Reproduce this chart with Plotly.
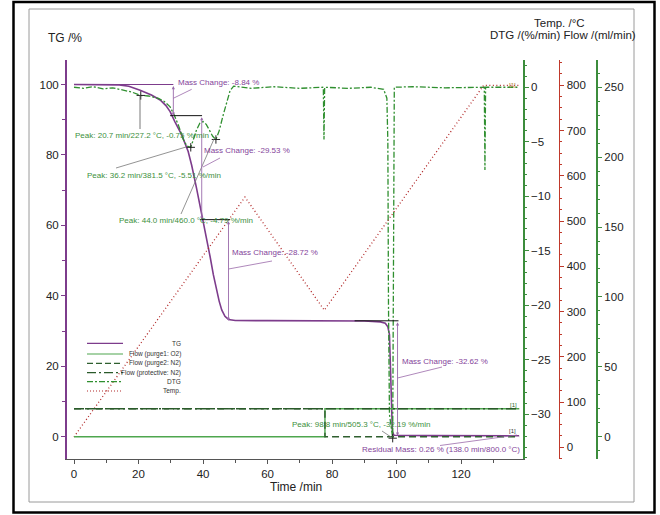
import plotly.graph_objects as go

# ---------------- data ----------------
time_tg = [0, 10, 14, 17, 20.5, 24, 26.7, 28.5, 29.8, 31.3, 33.4, 35.4, 36.5, 38.0, 39.6, 41.0, 42.2,
           43.2, 44.2, 45.0, 45.8, 46.8, 47.9, 50, 60, 80, 90, 95, 96.5, 97.3, 97.8, 98.1, 98.4, 98.7,
           99.2, 110, 138]
tg = [100.0, 100.0, 99.9, 99.5, 98.4, 97.0, 95.6, 94.0, 92.3, 89.4, 85.7, 81.0, 77.0, 70.5, 63.5, 57.0,
      51.1, 46.0, 41.6, 38.5, 36.0, 34.2, 33.3, 33.0, 32.95, 32.9, 32.85, 32.6, 32.2, 31.2, 29.0, 20.0,
      8.0, 1.5, 0.4, 0.3, 0.26]

time_dtg = [0, 3, 6, 9, 12, 15, 18, 20.7, 23, 26, 28, 29.8, 31, 32.4, 33.9, 35, 36.2, 37, 38, 39, 40,
            41, 42, 43, 44.0, 45, 46.3, 47.5, 48.4, 49.5, 55, 62, 70, 77.3, 77.5, 77.7, 85, 92, 96,
            97, 97.3, 97.5, 97.8, 98.8, 99.0, 99.1, 99.3, 105, 115, 127.2, 127.4, 127.6, 138]
dtg = [0.0, -0.1, 0.05, -0.15, -0.05, -0.25, -0.45, -0.75, -0.8, -1.0, -1.3, -1.8, -2.5, -3.5, -4.8,
       -5.4, -5.51, -4.8, -3.9, -3.3, -3.15, -3.4, -4.0, -4.5, -4.79, -4.0, -2.5, -1.2, -0.3, 0.1,
       -0.1, 0.05, -0.1, 0.0, -4.8, 0.0, -0.1, 0.0, -0.2, -1.0, -5.0, -20.0, -30.0, -32.19, -20.0,
       -3.0, 0.0, 0.05, -0.05, 0.0, -7.6, 0.0, 0.0]

time_temp = [0, 53.0, 77.6, 127.0, 138.0]
temp = [23, 553, 303, 800, 800]

time_flow = [0, 77.8, 77.8, 138]
flow_o2 = [0, 0, 20, 20]
flow_n2_purge = [20, 20, 0, 0]
time_prot = [0, 138]
flow_n2_prot = [20, 20]

mass_changes = [-8.84, -29.53, -28.72, -32.62]
mass_change_times = [30.8, 39.6, 47.9, 100.3]
peak_times = [20.7, 36.2, 44.0, 98.8]
peak_temps = [227.2, 381.5, 460.0, 505.3]
peak_dtg = [-0.75, -5.51, -4.79, -32.19]
residual_mass = 0.26
residual_time = 138.0
residual_temp = 800.0

x_ticks = [0, 20, 40, 60, 80, 100, 120]
tg_ticks = [0, 20, 40, 60, 80, 100]
dtg_ticks = [0, -5, -10, -15, -20, -25, -30]
temp_ticks = [0, 100, 200, 300, 400, 500, 600, 700, 800]
flow_ticks = [0, 50, 100, 150, 200, 250]

# ---------------- styling ----------------
W, H = 660, 515
ML, MR, MT, MB = 67, 20, 60, 56
PW = W - ML - MR          # 573
PH = H - MT - MB          # 399
X_DOM_END = (523 - ML) / PW


def PX(px):
    return (px - ML) / PW


def PY(py):
    return (H - MB - py) / PH


FONT = "Liberation Sans, Arial, sans-serif"
PURPLE = "#7d3c8c"
PTXT = "#84449a"
GTXT = "#3d8f3d"
GREEN_AX = "#3c8c3c"
RED_AX = "#c0392b"

fig = go.Figure()

# flows (yaxis4)
fig.add_trace(go.Scatter(x=time_flow, y=flow_o2, mode="lines", yaxis="y4", name="Flow (purge1: O2)",
                         line=dict(color="#4ea64e", width=1.4), showlegend=False))
fig.add_trace(go.Scatter(x=time_flow, y=flow_n2_purge, mode="lines", yaxis="y4", name="Flow (purge2: N2)",
                         line=dict(color="#2f5f2f", width=1.4, dash="7px,4px"), showlegend=False))
fig.add_trace(go.Scatter(x=time_prot, y=flow_n2_prot, mode="lines", yaxis="y4", name="Flow (protective: N2)",
                         line=dict(color="#2a5a2a", width=1.4, dash="10px,3px,2px,3px"), showlegend=False))
# temperature (yaxis3)
fig.add_trace(go.Scatter(x=time_temp, y=temp, mode="lines", yaxis="y3", name="Temp.",
                         line=dict(color="#b22a2a", width=1.3, dash="1px,2.5px"), showlegend=False))
# DTG (yaxis2)
fig.add_trace(go.Scatter(x=time_dtg, y=dtg, mode="lines", yaxis="y2", name="DTG",
                         line=dict(color="#2f8f2f", width=1.3, dash="6px,2px,2px,2px"), showlegend=False))
fig.add_trace(go.Scatter(x=peak_times, y=peak_dtg, mode="markers", yaxis="y2", name="peaks",
                         marker=dict(symbol="cross-thin", size=6, line=dict(color="#222", width=1)),
                         showlegend=False, hoverinfo="skip"))
# TG (yaxis)
fig.add_trace(go.Scatter(x=time_tg, y=tg, mode="lines", yaxis="y", name="TG",
                         line=dict(color=PURPLE, width=1.6), showlegend=False))

shapes = []
annotations = []

# mass change levels
levels = [100.0]
for mc in mass_changes:
    levels.append(round(levels[-1] + mc, 2))

# baseline at 100
shapes.append(dict(type="line", xref="x", yref="y", x0=13.3, x1=mass_change_times[0], y0=levels[0], y1=levels[0],
                   line=dict(color=PURPLE, width=1)))
# black step lines
step_spans = [(29.8, 39.7), (39.0, 48.4), (87.0, 100.6)]
for (a, b), lv in zip(step_spans, levels[1:4]):
    shapes.append(dict(type="line", xref="x", yref="y", x0=a, x1=b, y0=lv, y1=lv,
                       line=dict(color="#111", width=1)))
# double arrows
for t, a, b in zip(mass_change_times, levels[:-1], levels[1:]):
    annotations.append(dict(x=t, y=b, ax=t, ay=a, xref="x", yref="y", axref="x", ayref="y", text="",
                            showarrow=True, arrowside="end+start", arrowhead=2, startarrowhead=2,
                            arrowsize=0.7, startarrowsize=0.7, arrowwidth=0.9, arrowcolor="#9a6aaa"))

# leader lines (pixel positions)
leaders = [
    ((173.3, 98.3), (191.7, 89.3), "#9a6aaa"),
    ((203, 167), (220, 158), "#9a6aaa"),
    ((228.5, 269), (272, 261), "#9a6aaa"),
    ((397.5, 378), (442, 367), "#9a6aaa"),
    ((440, 445.5), (517, 435), "#9a6aaa"),
    ((140, 95), (140, 129), "#555"),
    ((116, 168), (186, 147), "#777"),
    ((181, 214), (214, 139), "#777"),
    ((382, 431), (391, 437), "#777"),
]
for (x0, y0), (x1, y1), c in leaders:
    shapes.append(dict(type="line", xref="paper", yref="paper", x0=PX(x0), y0=PY(y0), x1=PX(x1), y1=PY(y1),
                       line=dict(color=c, width=0.8)))

# annotation texts
texts = [
    ("Mass Change: %.2f %%" % mass_changes[0], 176, 82, PTXT),
    ("Peak: %.1f min/%.1f °C, %.2f %%/min" % (peak_times[0], peak_temps[0], peak_dtg[0]), 73, 135, GTXT),
    ("Peak: %.1f min/%.1f °C, %.2f %%/min" % (peak_times[1], peak_temps[1], peak_dtg[1]), 85, 175.7, GTXT),
    ("Mass Change: %.2f %%" % mass_changes[1], 202, 150, PTXT),
    ("Peak: %.1f min/%.1f °C, %.2f %%/min" % (peak_times[2], peak_temps[2], peak_dtg[2]), 117, 220.7, GTXT),
    ("Mass Change: %.2f %%" % mass_changes[2], 229.5, 252.7, PTXT),
    ("Mass Change: %.2f %%" % mass_changes[3], 399.5, 361.7, PTXT),
    ("Peak: %.1f min/%.1f °C, %.2f %%/min" % (peak_times[3], peak_temps[3], peak_dtg[3]), 290, 424, GTXT),
    ("Residual Mass: %.2f %% (%.1f min/%.1f °C)" % (residual_mass, residual_time, residual_temp), 359.5, 449.3, PTXT),
]
for txt, px, py, col in texts:
    annotations.append(dict(x=PX(px), y=PY(py), xref="paper", yref="paper", text=txt, showarrow=False,
                            xanchor="left", yanchor="middle", font=dict(family=FONT, size=8, color=col)))

# [1] end markers
for px, py, col in [(512, 85, "#b07a2a"), (513, 405, "#2a6a2a"), (512, 431, "#333")]:
    annotations.append(dict(x=PX(px), y=PY(py), xref="paper", yref="paper", text="[1]", showarrow=False,
                            xanchor="center", yanchor="middle", font=dict(family=FONT, size=6, color=col)))

# axis titles
for txt, px, py, size in [("TG /%", 65, 38, 12), ("Temp. /°C", 559, 23, 11.5),
                          ("DTG /(%/min) Flow /(ml/min)", 563, 35, 11.5), ("Time /min", 296, 487, 12)]:
    annotations.append(dict(x=PX(px), y=PY(py), xref="paper", yref="paper", text=txt, showarrow=False,
                            xanchor="center", yanchor="middle", font=dict(family=FONT, size=size, color="#222")))

# manual legend
legend_items = [
    ("TG", dict(color=PURPLE, width=1.2)),
    ("Flow (purge1: O2)", dict(color="#4ea64e", width=1.2)),
    ("Flow (purge2: N2)", dict(color="#2f5f2f", width=1.2, dash="6px,3px")),
    ("Flow (protective: N2)", dict(color="#2a5a2a", width=1.2, dash="9px,3px,2px,3px")),
    ("DTG", dict(color="#2f8f2f", width=1.2, dash="6px,2px,2px,2px")),
    ("Temp.", dict(color="#b22a2a", width=1.2, dash="1px,2px")),
]
leg_rows = [343.3, 354, 363.3, 372.7, 381.7, 391]
for (name, ln), py in zip(legend_items, leg_rows):
    shapes.append(dict(type="line", xref="paper", yref="paper", x0=PX(87), x1=PX(123), y0=PY(py), y1=PY(py),
                       line=ln))
    annotations.append(dict(x=PX(183), y=PY(py), xref="paper", yref="paper", text=name, showarrow=False,
                            xanchor="right", yanchor="middle", font=dict(family=FONT, size=6.5, color="#333")))

# frames
shapes.append(dict(type="rect", xref="paper", yref="paper", x0=PX(29), x1=PX(634), y0=PY(502), y1=PY(9),
                   line=dict(color="#9a9a9a", width=1)))
shapes.append(dict(type="rect", xref="paper", yref="paper", x0=PX(13.5), x1=PX(654.5), y0=PY(512.5), y1=PY(2),
                   line=dict(color="#000", width=2.5)))

axis_common = dict(showgrid=False, zeroline=False, showline=True, ticks="outside", ticklen=4,
                   tickfont=dict(family=FONT, size=11.5, color="#222"))

fig.update_layout(
    width=W, height=H,
    margin=dict(l=ML, r=MR, t=MT, b=MB),
    paper_bgcolor="white", plot_bgcolor="white",
    font=dict(family=FONT),
    showlegend=False,
    xaxis=dict(domain=[0, X_DOM_END], range=[-2.17, 139.2], tickvals=x_ticks, linecolor="#555",
               tickcolor="#555", minor=dict(dtick=10, ticks="outside", ticklen=3, tickcolor="#555"),
               **axis_common),
    yaxis=dict(range=[-6.33, 106.96], tickvals=tg_ticks, linecolor=PURPLE, linewidth=2, tickcolor=PURPLE,
               minor=dict(dtick=10, ticks="outside", ticklen=3, tickcolor=PURPLE), **axis_common),
    yaxis2=dict(overlaying="y", side="right", anchor="x", range=[-34.1, 2.5], tickvals=dtg_ticks,
                linecolor=GREEN_AX, linewidth=1.5, tickcolor=GREEN_AX,
                minor=dict(dtick=1, ticks="outside", ticklen=2, tickcolor=GREEN_AX), **axis_common),
    yaxis3=dict(overlaying="y", side="right", anchor="free", position=PX(559.3), range=[-25.9, 855.9],
                tickvals=temp_ticks, linecolor=RED_AX, linewidth=1.2, tickcolor=RED_AX,
                minor=dict(dtick=25, ticks="outside", ticklen=2, tickcolor=RED_AX), **axis_common),
    yaxis4=dict(overlaying="y", side="right", anchor="free", position=PX(597.3), range=[-15.95, 269.5],
                tickvals=flow_ticks, linecolor=GREEN_AX, linewidth=1.5, tickcolor=GREEN_AX,
                minor=dict(dtick=10, ticks="outside", ticklen=2, tickcolor=GREEN_AX), **axis_common),
    shapes=shapes,
    annotations=annotations,
)

# remove the default page margin so the figure sits at the window origin
fig.write_html("out.html", config={"displayModeBar": False},
               post_script="document.body.style.margin='0px';document.body.style.overflow='hidden';")
